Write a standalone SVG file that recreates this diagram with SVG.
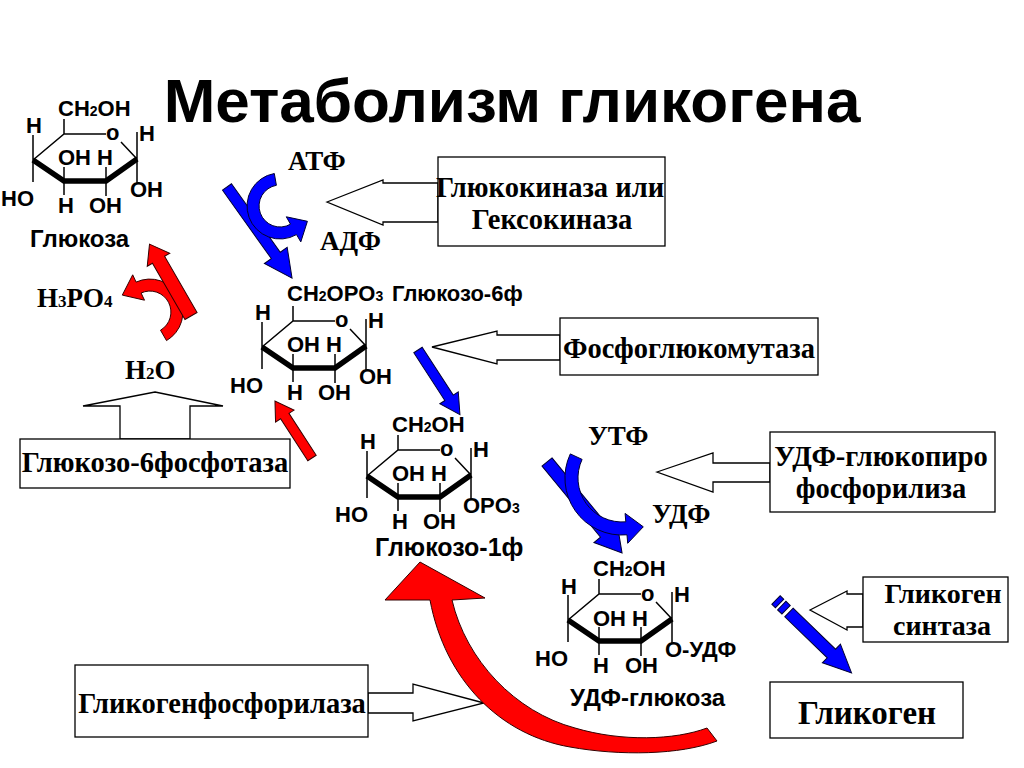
<svg xmlns="http://www.w3.org/2000/svg" xmlns:xlink="http://www.w3.org/1999/xlink" width="1024" height="768" viewBox="0 0 1024 768">
<style>
.t{font-family:"Liberation Sans",Arial,sans-serif;font-weight:bold;font-size:22px;fill:#000}
.lbl{font-family:"Liberation Sans",Arial,sans-serif;font-weight:bold;font-size:24px;fill:#000}
.s{font-size:14px}
.rs{font-family:"Liberation Serif","Times New Roman",serif;font-weight:bold;font-size:28.5px;fill:#000}
.co{font-family:"Liberation Serif","Times New Roman",serif;font-weight:bold;font-size:27px;fill:#000}
.rss{font-size:17px}
.box{fill:#fff;stroke:#000;stroke-width:1.3}
.barr{fill:#fff;stroke:#000;stroke-width:1.3;stroke-linejoin:miter}
.blue{fill:#0000ff;stroke:#000033;stroke-width:1}
.red{fill:#ff0000;stroke:#330000;stroke-width:1}
.thin{fill:none;stroke:#000;stroke-width:1.5}
.thick{fill:none;stroke:#000;stroke-width:5.5;stroke-linejoin:miter}
</style>
<defs>
<g id="ring">
<path class="thin" d="M0,0 L31,-26 L73,-26 M88,-18 L104,-1 M0,-25 V22 M31,-26 V-41 M31,7 V35 M73,7 V36 M104,-28 V24"/>
<path class="thick" d="M0,0 L31,21 L73,21 L104,-1"/>
</g>
</defs>
<rect width="1024" height="768" fill="#fff"/>
<text x="512" y="122" text-anchor="middle" style="font-family:'Liberation Sans',Arial,sans-serif;font-weight:bold;font-size:62px">Метаболизм гликогена</text>

<g id="connectors">
<polygon class="barr" points="327,202 383,180 383,183 438,183 438,222 383,222 383,225"/>
<polygon class="barr" points="432,347 497,331 497,335 560,335 560,360 497,360 497,364"/>
<polygon class="barr" points="657,472 713,453 713,463 770,463 770,482 713,482 713,492"/>
<polygon class="barr" points="810,610 847,591 847,594 863,594 863,627 847,627 847,630"/>
<polygon class="barr" points="155,392 223,406 190,406 190,439 120,439 120,406 83,406"/>
<polygon class="barr" points="484,703 413,684 413,693 368,693 368,713 413,713 413,721"/>
<polygon class="blue" transform="translate(227,187) rotate(54.5)" points="0,-5.5 84,-5.5 84,-14 112,0 84,14 84,5.5 0,5.5"/>
<path class="blue" d="M274.3,173.5 A33,33 0 1 0 296.5,234.6 L300.8,241.9 L307.4,221.3 L286.3,216.8 L290.5,224.2 A21,21 0 1 1 276.4,185.3 Z"/>
<polygon class="blue" transform="translate(547,462) rotate(50.5)" points="0,-6.5 92,-6.5 92,-15 118,0 92,15 92,6.5 0,6.5"/>
<path class="blue" d="M570.3,453.9 A57,57 0 0 0 627,534.8 L627.7,543.3 L643.3,526.8 L625.1,513.4 L625.8,521.8 A44,44 0 0 1 582.1,459.4 Z"/>
<polygon class="blue" transform="translate(418,350) rotate(57)" points="0,-5 57,-5 57,-11 77,0 57,11 57,5 0,5"/>
<g class="blue" transform="translate(776,600) rotate(44)">
<polygon points="0,-6 5,-6 5,6 0,6"/>
<polygon points="8,-6 14,-6 14,6 8,6"/>
<polygon points="18,-6 77,-6 77,-13 105,0 77,13 77,6 18,6"/>
</g>
<path class="red" d="M166.5,340.6 A33,33 0 0 0 136.1,282.1 L132.7,274.8 L122.3,295.1 L144.5,300.2 L141.1,293 A21,21 0 0 1 160.5,330.2 Z"/>
<polygon class="red" transform="translate(191,316) rotate(-120)" points="0,-7 65,-7 65,-13 83,0 65,13 65,7 0,7"/>
<polygon class="red" transform="translate(312,458) rotate(-123)" points="0,-5 50,-5 50,-11 68,0 50,11 50,5 0,5"/>
<path class="red" d="M430,600 C445,680 500,735 570,747 C620,756 680,755 717,741 L707,728 C675,740 622,742 575,728 C515,712 466,660 452,600 L485,598 L420,562 L385,600 Z"/>
</g>

<g id="glucose">
<g transform="translate(33,160)">
<use xlink:href="#ring" href="#ring"/>
<text class="t" x="25" y="-44">CH<tspan class="s">2</tspan>OH</text>
<text class="t" x="-7" y="-27">H</text>
<text class="t" x="73" y="-20">o</text>
<text class="t" x="106" y="-19">H</text>
<text class="t" x="25" y="5">OH H</text>
<text class="t" x="-32" y="46">HO</text>
<text class="t" x="25" y="53">H</text>
<text class="t" x="56" y="53">OH</text>
<text class="t" x="97" y="37">OH</text>
</g>
<text class="lbl" x="30" y="247">Глюкоза</text>
</g>

<g id="glucose-6p">
<g transform="translate(262,347)">
<use xlink:href="#ring" href="#ring"/>
<text class="t" x="25" y="-46">CH<tspan class="s">2</tspan>OPO<tspan class="s">3</tspan></text>
<text class="t" x="-7" y="-27">H</text>
<text class="t" x="73" y="-20">o</text>
<text class="t" x="106" y="-19">H</text>
<text class="t" x="25" y="5">OH H</text>
<text class="t" x="-32" y="46">HO</text>
<text class="t" x="25" y="53">H</text>
<text class="t" x="56" y="53">OH</text>
<text class="t" x="97" y="37">OH</text>
</g>
<text class="lbl" x="392" y="301" style="font-size:22px">Глюкозо-6ф</text>
</g>

<g id="glucose-1p">
<g transform="translate(367,476)">
<use xlink:href="#ring" href="#ring"/>
<text class="t" x="25" y="-44">CH<tspan class="s">2</tspan>OH</text>
<text class="t" x="-7" y="-27">H</text>
<text class="t" x="73" y="-20">o</text>
<text class="t" x="106" y="-19">H</text>
<text class="t" x="25" y="5">OH H</text>
<text class="t" x="-32" y="46">HO</text>
<text class="t" x="25" y="53">H</text>
<text class="t" x="56" y="53">OH</text>
<text class="t" x="96" y="37">OPO<tspan class="s">3</tspan></text>
</g>
<text class="lbl" x="375" y="556" style="font-size:25px">Глюкозо-1ф</text>
</g>

<g id="udp-glucose">
<g transform="translate(568,620)">
<use xlink:href="#ring" href="#ring"/>
<text class="t" x="25" y="-44">CH<tspan class="s">2</tspan>OH</text>
<text class="t" x="-7" y="-26">H</text>
<text class="t" x="73" y="-19">o</text>
<text class="t" x="106" y="-18">H</text>
<text class="t" x="25" y="6">OH H</text>
<text class="t" x="-33" y="46">HO</text>
<text class="t" x="25" y="53">H</text>
<text class="t" x="57" y="53">OH</text>
<text class="t" x="97" y="37">O-УДФ</text>
</g>
<text class="lbl" x="570" y="706">УДФ-глюкоза</text>
</g>

<g id="cofactors">
<text class="co" x="288" y="170">АТФ</text>
<text class="co" x="320" y="250">АДФ</text>
<text class="co" x="588" y="445">УТФ</text>
<text class="co" x="652" y="523">УДФ</text>
<text class="co" x="37" y="307">H<tspan class="rss">3</tspan>PO<tspan class="rss">4</tspan></text>
<text class="co" x="125" y="379">H<tspan class="rss">2</tspan>O</text>
</g>

<g id="hexokinase">
<rect class="box" x="438" y="157" width="227" height="89"/>
<text class="rs" x="550" y="197" text-anchor="middle">Глюкокиназа или</text>
<text class="rs" x="552" y="229" text-anchor="middle">Гексокиназа</text>
</g>
<g id="phosphoglucomutase">
<rect class="box" x="560" y="318" width="258" height="57"/>
<text class="rs" x="689" y="358" text-anchor="middle">Фосфоглюкомутаза</text>
</g>
<g id="udp-pyrophosphorylase">
<rect class="box" x="770" y="432" width="225" height="80"/>
<text class="rs" x="881" y="466" text-anchor="middle">УДФ-глюкопиро</text>
<text class="rs" x="881" y="498" text-anchor="middle">фосфорилиза</text>
</g>
<g id="glycogen-synthase">
<rect class="box" x="863" y="577" width="145" height="65"/>
<text class="rs" x="943" y="603" text-anchor="middle" style="font-size:28px">Гликоген</text>
<text class="rs" x="942" y="635" text-anchor="middle" style="font-size:28px">синтаза</text>
</g>
<g id="glucose-6-phosphatase">
<rect class="box" x="20" y="439" width="270" height="49"/>
<text class="rs" x="155" y="472" text-anchor="middle">Глюкозо-6фосфотаза</text>
</g>
<g id="glycogen-phosphorylase">
<rect class="box" x="75" y="665" width="293" height="72"/>
<text class="rs" x="222" y="713" text-anchor="middle">Гликогенфосфорилаза</text>
</g>
<g id="glycogen">
<rect class="box" x="770" y="682" width="193" height="56"/>
<text class="rs" x="867" y="724" text-anchor="middle" style="font-size:33px">Гликоген</text>
</g>
</svg>
